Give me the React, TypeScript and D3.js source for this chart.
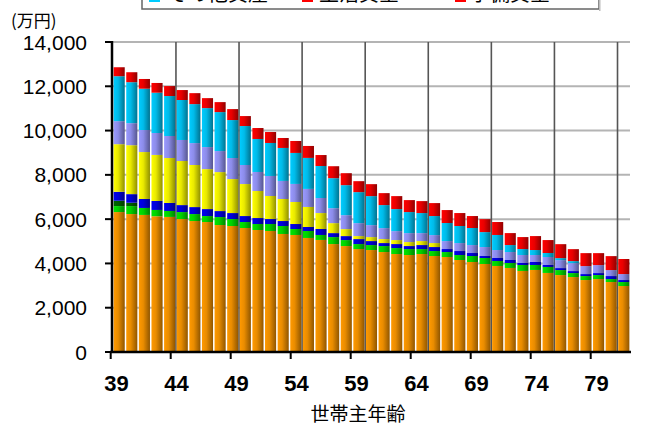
import React from 'react';
import * as d3 from 'd3';

// 世帯主年齢
const ages = [39, 40, 41, 42, 43, 44, 45, 46, 47, 48, 49, 50, 51, 52, 53, 54, 55, 56, 57, 58, 59,
  60, 61, 62, 63, 64, 65, 66, 67, 68, 69, 70, 71, 72, 73, 74, 75, 76, 77, 78, 79];

// series values (万円), bottom to top
const orange = [6320, 6230, 6190, 6130, 6100, 6005, 5915, 5870, 5735, 5690, 5600, 5510, 5465, 5330, 5285, 5150, 5060, 4875, 4785, 4650,
  4605, 4515, 4425, 4380, 4425, 4335, 4290, 4155, 4065, 3975, 3885, 3795, 3660, 3705, 3570, 3475, 3385, 3250, 3295, 3160, 2980];
const green = [270, 360, 315, 285, 270, 315, 315, 270, 360, 315, 270, 270, 315, 360, 270, 315, 225, 315, 270, 225,
  225, 270, 270, 270, 225, 225, 225, 225, 270, 270, 225, 225, 270, 225, 270, 225, 180, 180, 180, 135, 180];
const darkGreen = [240, 150, 0, 0, 0, 0, 0, 0, 0, 0, 0, 0, 0, 0, 0, 0, 0, 0, 0, 0,
  0, 0, 0, 0, 0, 0, 0, 0, 0, 0, 0, 0, 0, 0, 0, 0, 0, 0, 0, 0, 0];
const blue = [405, 390, 405, 405, 360, 315, 315, 315, 270, 270, 270, 270, 225, 225, 225, 180, 270, 180, 180, 225,
  180, 135, 180, 135, 180, 180, 135, 180, 135, 90, 135, 135, 90, 135, 90, 90, 90, 90, 90, 135, 90];
const yellow = [2150, 2210, 2120, 2080, 2030, 1990, 1900, 1805, 1760, 1535, 1445, 1220, 1040, 995, 995, 905, 720, 450, 315, 135,
  180, 180, 180, 180, 180, 180, 0, 0, 0, 0, 0, 0, 0, 0, 0, 0, 0, 0, 0, 0, 0];
const lavender = [1040, 995, 995, 990, 995, 950, 990, 995, 950, 950, 860, 860, 905, 815, 815, 815, 680, 675, 630, 585,
  540, 495, 405, 405, 360, 360, 360, 360, 360, 405, 360, 360, 360, 315, 360, 360, 360, 360, 360, 270, 270];
const cyan = [2030, 1850, 1865, 1820, 1805, 1805, 1760, 1760, 1760, 1715, 1760, 1490, 1490, 1490, 1400, 1400, 1445, 1355, 1355, 1400,
  1310, 1040, 995, 950, 905, 860, 815, 770, 770, 675, 680, 315, 270, 225, 180, 90, 90, 0, 0, 0, 0];
const red = [405, 450, 440, 440, 450, 450, 495, 450, 450, 495, 450, 495, 495, 450, 540, 540, 495, 540, 540, 495,
  540, 540, 585, 540, 540, 585, 585, 585, 540, 585, 585, 540, 540, 630, 585, 630, 540, 585, 540, 630, 680];

const seriesKeys = ['orange', 'green', 'darkGreen', 'blue', 'yellow', 'lavender', 'cyan', 'red'];
const seriesValues = [orange, green, darkGreen, blue, yellow, lavender, cyan, red];
const seriesColors = ['#FF9900', '#00E600', '#006600', '#0000EE', '#FFFF00', '#9999FF', '#00CCFF', '#FF0000'];

const yTicks = [0, 2000, 4000, 6000, 8000, 10000, 12000, 14000];
const xTickLabels = [39, 44, 49, 54, 59, 64, 69, 74, 79];

// legend (upper rows are cut off by the top of the picture)
const legendNames = ['その他資産', '生活資金', '予備資金'];
const legendColors = ['#00CCFF', '#FF0000', '#FF0000'];

const W = 651;
const H = 427;
const left = 113;
const right = 630;
const top = 42;
const bottom = 352;

const numFont = "'Liberation Sans', Arial, sans-serif";
const jpFont = "'Noto Sans CJK JP', sans-serif";

export default function App() {
  const rows = ages.map((age, i) => {
    const r: Record<string, number> = { age };
    seriesKeys.forEach((k, j) => { r[k] = seriesValues[j][i]; });
    return r;
  });
  const stacked = d3.stack<Record<string, number>>().keys(seriesKeys)(rows);

  const x = d3.scaleBand<number>().domain(ages).range([left, right]).paddingInner(0.12).paddingOuter(0.05);
  const y = d3.scaleLinear().domain([0, 14000]).range([bottom, top]);
  const xAge = d3.scaleLinear().domain([39, 79]).range([110.7, 590.7]);

  const step = x.step();
  const bw = x.bandwidth();
  const vGrid = ages.filter((_, i) => i > 0 && i % 5 === 0).map(a => (x(a) as number) - (step - bw) / 2);

  const fmt = d3.format(',');

  return (
    <svg width={W} height={H} style={{ position: 'absolute', left: 0, top: 0, background: '#fff' }}>
      <defs>
        {seriesColors.map((c, i) => {
          const dark = d3.color(c)!.darker(1.6).formatHex();
          const mid = d3.color(c)!.darker(0.25).formatHex();
          return (
            <linearGradient key={i} id={`g${i}`} x1="0" x2="1" y1="0" y2="0">
              <stop offset="0" stopColor={c} />
              <stop offset="0.4" stopColor={mid} />
              <stop offset="1" stopColor={dark} />
            </linearGradient>
          );
        })}
      </defs>

      {/* legend box */}
      <rect x={142} y={-40} width={457} height={49} fill="#fff" stroke="#666" strokeWidth={1.5} />
      <rect x={599} y={-38} width={1.5} height={49} fill="#bbb" />
      {legendNames.map((n, i) => (
        <g key={n}>
          <rect x={149 + i * 153} y={-8} width={11} height={10} fill={legendColors[i]} />
          <text x={168 + i * 151} y={0.5} fontFamily={jpFont} fontSize={20}>{n}</text>
        </g>
      ))}

      {/* grid */}
      {yTicks.filter(t => t > 0).map(t => (
        <line key={t} x1={left} x2={right} y1={y(t)} y2={y(t)} stroke="#b4b4b4" strokeWidth={2} />
      ))}
      {vGrid.map((gx, i) => (
        <line key={i} x1={gx} x2={gx} y1={top} y2={bottom} stroke="#555" strokeWidth={1.6} />
      ))}

      {/* bars */}
      {stacked.map((s, j) => (
        <g key={s.key} fill={`url(#g${j})`}>
          {s.map((d, i) => (d[1] - d[0] > 0 ? (
            <rect key={i} x={x(ages[i])} width={bw} y={y(d[1])} height={y(d[0]) - y(d[1])} />
          ) : null))}
        </g>
      ))}

      {/* y axis */}
      <line x1={112} x2={112} y1={top - 1} y2={bottom + 1} stroke="#000" strokeWidth={2.5} />
      {yTicks.map(t => (
        <g key={t}>
          <line x1={105} x2={112} y1={y(t)} y2={y(t)} stroke="#000" strokeWidth={2} />
          <text x={87} y={y(t)} dy="0.36em" textAnchor="end" fontFamily={numFont} fontSize={21}>{fmt(t)}</text>
        </g>
      ))}
      <text x={11} y={27} fontFamily={jpFont} fontSize={17}>(万円)</text>

      {/* x axis */}
      <line x1={110} x2={right + 1} y1={bottom} y2={bottom} stroke="#000" strokeWidth={2.5} />
      {xTickLabels.map(a => (
        <g key={a}>
          <line x1={xAge(a)} x2={xAge(a)} y1={bottom} y2={bottom + 7} stroke="#000" strokeWidth={2} />
          <text x={xAge(a) + 5.8} y={391} textAnchor="middle" fontFamily={numFont} fontWeight="bold" fontSize={22}>{a}</text>
        </g>
      ))}
      <text x={358} y={421} textAnchor="middle" fontFamily={jpFont} fontSize={19}>世帯主年齢</text>
    </svg>
  );
}
